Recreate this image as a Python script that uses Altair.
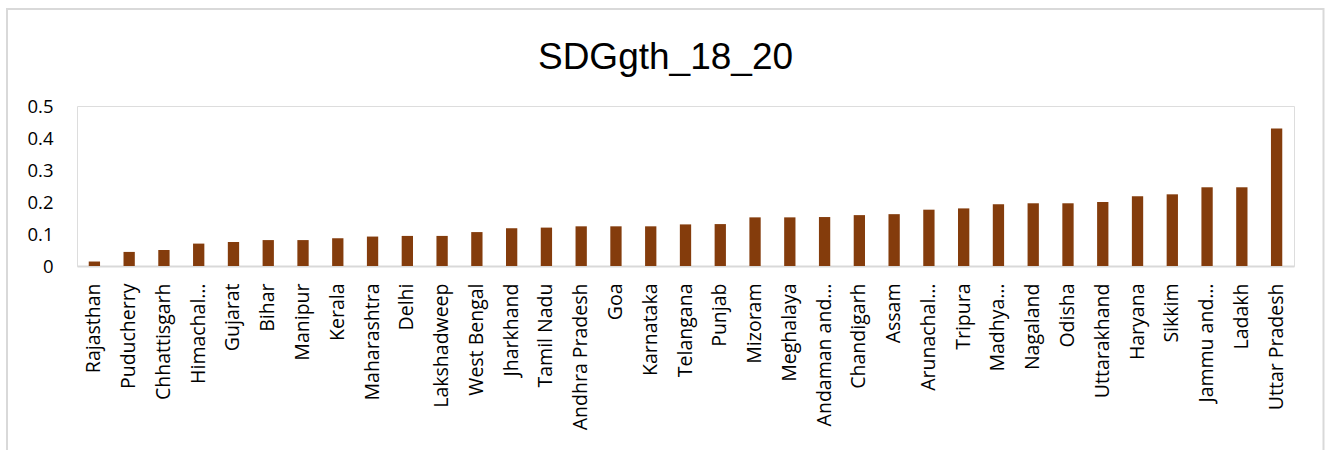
import altair as alt
import pandas as pd

# States / UTs in ascending order of the indicator, as labelled on the axis
states = [
    "Rajasthan", "Puducherry", "Chhattisgarh", "Himachal…", "Gujarat", "Bihar",
    "Manipur", "Kerala", "Maharashtra", "Delhi", "Lakshadweep", "West Bengal",
    "Jharkhand", "Tamil Nadu", "Andhra Pradesh", "Goa", "Karnataka", "Telangana",
    "Punjab", "Mizoram", "Meghalaya", "Andaman and…", "Chandigarh", "Assam",
    "Arunachal…", "Tripura", "Madhya…", "Nagaland", "Odisha", "Uttarakhand",
    "Haryana", "Sikkim", "Jammu and…", "Ladakh", "Uttar Pradesh",
]
values = [
    0.014, 0.044, 0.050, 0.070, 0.075, 0.081,
    0.081, 0.087, 0.092, 0.094, 0.094, 0.106,
    0.118, 0.120, 0.124, 0.124, 0.124, 0.130,
    0.131, 0.152, 0.152, 0.153, 0.159, 0.162,
    0.176, 0.180, 0.193, 0.196, 0.196, 0.200,
    0.218, 0.224, 0.246, 0.246, 0.430,
]
y_ticks = [0, 0.1, 0.2, 0.3, 0.4, 0.5]

df = pd.DataFrame({"state": states, "value": values})

bars = alt.Chart(df).mark_bar(color="#843C0C").encode(
    x=alt.X(
        "state:N",
        sort=None,
        title=None,
        scale=alt.Scale(paddingInner=0.675, paddingOuter=0.3375),
        axis=alt.Axis(
            labelAngle=-90,
            labelFont="Open Sans",
            labelFontSize=19.5,
            labelColor="#000000",
            labelPadding=17,
            labelLimit=400,
            ticks=False,
            tickSize=0,
            domainColor="#d9d9d9",
            domainWidth=2,
            grid=False,
        ),
    ),
    y=alt.Y(
        "value:Q",
        title=None,
        scale=alt.Scale(domain=[0, 0.5], nice=False),
        axis=alt.Axis(
            values=y_ticks,
            format="~g",
            labelFont="Open Sans",
            labelFontSize=18.5,
            labelColor="#000000",
            labelPadding=24,
            ticks=False,
            tickSize=0,
            domain=False,
            grid=False,
        ),
    ),
)

# light grey frame around the whole chart area
frame = alt.Chart(pd.DataFrame({"f": [0]})).mark_rect(
    fillOpacity=0, stroke="#d9d9d9", strokeWidth=2
).encode(
    x=alt.value(-70),
    x2=alt.value(1246.5),
    y=alt.value(-97),
    y2=alt.value(380),
)

chart = alt.layer(frame, bars).properties(
    width=1217,
    height=160,
    title=alt.TitleParams(
        "SDGgth_18_20",
        font="Liberation Sans",
        fontSize=37,
        fontWeight="normal",
        color="#000000",
        anchor="middle",
        frame="group",
        baseline="alphabetic",
        dx=-20,
        dy=98,
        offset=0,
    ),
    autosize=alt.AutoSizeParams(type="none"),
    padding={"left": 77, "top": 106, "right": 38, "bottom": 184},
).configure_view(stroke=None).configure(background="white")

chart.save("out.html", embed_options={"renderer": "svg", "actions": False})
